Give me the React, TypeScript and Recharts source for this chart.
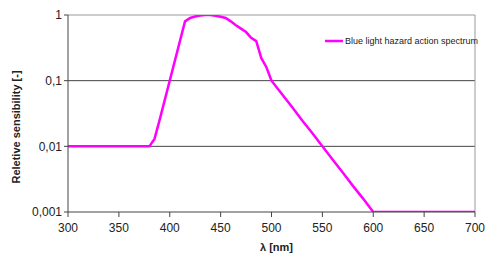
import React from 'react';
import { LineChart, Line, XAxis, YAxis, ReferenceLine } from 'recharts';

const wavelengths = [300, 320, 340, 360, 380, 385, 390, 395, 400, 405, 410, 415, 420, 425, 430, 435, 440, 445, 450, 455, 460, 465, 470, 475, 480, 485, 490, 495, 500, 510, 520, 530, 540, 550, 560, 570, 580, 590, 600, 650, 700];
const sensitivity = [0.01, 0.01, 0.01, 0.01, 0.01, 0.013, 0.025, 0.05, 0.1, 0.2, 0.4, 0.8, 0.9, 0.95, 0.98, 1.0, 1.0, 0.97, 0.94, 0.9, 0.8, 0.7, 0.62, 0.55, 0.45, 0.4, 0.22, 0.16, 0.1, 0.063, 0.04, 0.025, 0.016, 0.01, 0.0063, 0.004, 0.0025, 0.0016, 0.001, 0.001, 0.001];
const xTicks = [300, 350, 400, 450, 500, 550, 600, 650, 700];
const yTicks = [0.001, 0.01, 0.1, 1];
const seriesName = 'Blue light hazard action spectrum';

const data = wavelengths.map((w, i) => ({ w, v: sensitivity[i] }));

const FONT = '"Liberation Sans", Arial, sans-serif';

const fmtY = (v: number) => String(v).replace('.', ',');

const YTitle = () => (
  <text
    x={16}
    y={127}
    transform="rotate(-90, 16, 127)"
    textAnchor="middle"
    dominantBaseline="central"
    fontFamily={FONT}
    fontWeight="bold"
    fontSize={11}
    fill="#222"
  >
    Reletive sensibility [-]
  </text>
);

export default function App() {
  return (
    <div style={{ position: 'absolute', left: 0, top: 0, width: 497, height: 260, background: '#fff' }}>
      <LineChart width={497} height={260} data={data} margin={{ top: 15, right: 22, bottom: 0, left: 0 }}>
        <XAxis
          dataKey="w"
          type="number"
          domain={[300, 700]}
          ticks={xTicks}
          interval={0}
          height={48}
          tickSize={5}
          tickMargin={6}
          stroke="#444"
          tick={{ fontFamily: FONT, fontSize: 12, fill: '#222' }}
          label={{ value: 'λ [nm]', position: 'insideBottom', offset: 9, dx: 5, style: { fontFamily: FONT, fontWeight: 'bold', fontSize: 11, fill: '#222' } }}
        />
        <YAxis
          scale="log"
          domain={[0.001, 1]}
          ticks={yTicks}
          interval={0}
          allowDataOverflow
          width={68}
          tickSize={4}
          tickMargin={2}
          stroke="#444"
          tickFormatter={fmtY}
          tick={{ fontFamily: FONT, fontSize: 12, fill: '#222' }}
          label={<YTitle />}
        />
        <ReferenceLine y={1} stroke="#999" strokeWidth={1} />
        <ReferenceLine y={0.1} stroke="#444" strokeWidth={1} />
        <ReferenceLine y={0.01} stroke="#444" strokeWidth={1} />
        <ReferenceLine x={700} stroke="#999" strokeWidth={1} />
        <Line
          dataKey="v"
          name={seriesName}
          stroke="#ff00ff"
          strokeWidth={2.5}
          dot={false}
          type="linear"
          isAnimationActive={false}
        />
      </LineChart>
      <div style={{ position: 'absolute', left: 325, top: 36, display: 'flex', alignItems: 'center', fontFamily: FONT, fontSize: 9, color: '#222', whiteSpace: 'nowrap' }}>
        <svg width={19} height={6} style={{ marginRight: 1 }}>
          <line x1={0} y1={3} x2={18} y2={3} stroke="#ff00ff" strokeWidth={2.5} />
        </svg>
        <span>{seriesName}</span>
      </div>
    </div>
  );
}
